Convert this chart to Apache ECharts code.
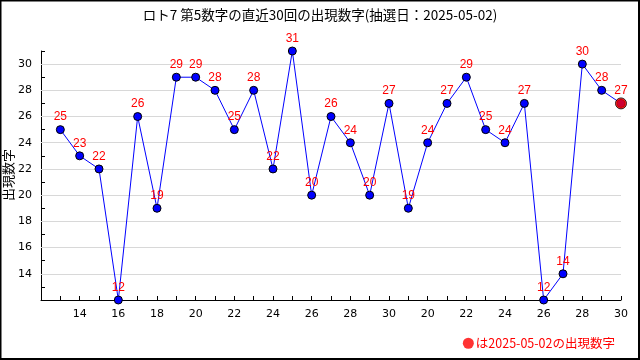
<!DOCTYPE html>
<html><head><meta charset="utf-8">
<script src="https://cdn.jsdelivr.net/npm/echarts@6/dist/echarts.min.js"></script>
<style>html,body{margin:0;padding:0;background:#fff}#c{width:640px;height:360px}</style>
</head><body><div id="c"></div>
<script>
const titleText = 'ロト7 第5数字の直近30回の出現数字(抽選日：2025-05-02)';
const yName = '出現数字';
const legendName = 'は2025-05-02の出現数字';
const xLabels = ['13','14','15','16','17','18','19','20','21','22','23','24','25','26','27','28','29','30',
                 '19','20','21','22','23','24','25','26','27','28','29','30'];
const values = [25,23,22,12,26,19,29,29,28,25,28,22,31,20,26,24,20,27,19,24,27,29,25,24,27,12,14,30,28,27];
const yTicks = [14,16,18,20,22,24,26,28,30];

const lineData = values.map((v,i)=>[i+1,v]);
const lastIdx = values.length - 1;
const lastData = [[lastIdx+1, values[lastIdx]]];
const font = 'DejaVu Sans';

const chart = echarts.init(document.getElementById('c'), null, {renderer:'canvas'});
chart.setOption({
  backgroundColor:'#fff',
  animation:false,
  title:{text:titleText,left:'center',top:3,textStyle:{fontFamily:'Noto Sans CJK JP',fontSize:13.5,fontWeight:'normal',color:'#000'}},
  legend:{data:[{name:legendName,icon:'circle',itemStyle:{borderWidth:0,color:'#ff0000'}}],right:20,top:332,itemWidth:11,itemHeight:11,itemGap:2,
    textStyle:{color:'#ff0000',fontFamily:'Noto Sans CJK JP',fontSize:12.5,padding:[0,0,0,-3]}},
  grid:{left:41,right:19,top:51,bottom:60,containLabel:false,outerBoundsMode:'none'},
  xAxis:{type:'value',min:0,max:30,interval:1,
    axisLine:{lineStyle:{color:'#000',width:1}},
    axisTick:{inside:true,length:4,lineStyle:{color:'#000'}},
    splitLine:{show:false},
    axisLabel:{margin:9,color:'#000',fontFamily:font,fontSize:11,
      formatter:function(v){ if(v>=2 && v%2===0) return xLabels[v-1]; return ''; }}
  },
  yAxis:{type:'value',min:12,max:31,interval:1,
    axisLine:{show:true,lineStyle:{color:'#000',width:1}},
    axisTick:{show:true,inside:true,length:4,lineStyle:{color:'#000'}},
    splitLine:{show:false},
    axisLabel:{margin:9,color:'#000',fontFamily:font,fontSize:11,
      formatter:function(v){ return yTicks.indexOf(v)>=0 ? String(v) : ''; }}
  },
  series:[
    {type:'line',data:lineData,symbol:'circle',symbolSize:8,
      lineStyle:{color:'#0000ff',width:1},
      itemStyle:{color:'#0000ff',borderColor:'#000',borderWidth:1},
      label:{show:true,position:'top',distance:2,color:'#ff0000',fontFamily:'Liberation Sans',fontSize:12},
      markLine:{silent:true,symbol:['none','none'],label:{show:false},animation:false,z:1,
        lineStyle:{color:'#d8d8d8',type:'solid',width:1},
        data:yTicks.map(v=>({yAxis:v}))},
      z:2},
    {type:'scatter',name:legendName,data:lastData,symbol:'circle',symbolSize:11,
      itemStyle:{color:'#ff0000',borderColor:'#000',borderWidth:1},z:3}
  ],
  graphic:[
    {type:'text',x:8,y:175,rotation:Math.PI/2,style:{text:yName,fill:'#000',font:'13px "Noto Sans CJK JP"',align:'center',verticalAlign:'middle'}},
    {type:'rect',shape:{x:0.5,y:0.5,width:638.5,height:358.5},style:{fill:'none',stroke:'#000',lineWidth:2},z:100}
  ]
});
</script></body></html>
